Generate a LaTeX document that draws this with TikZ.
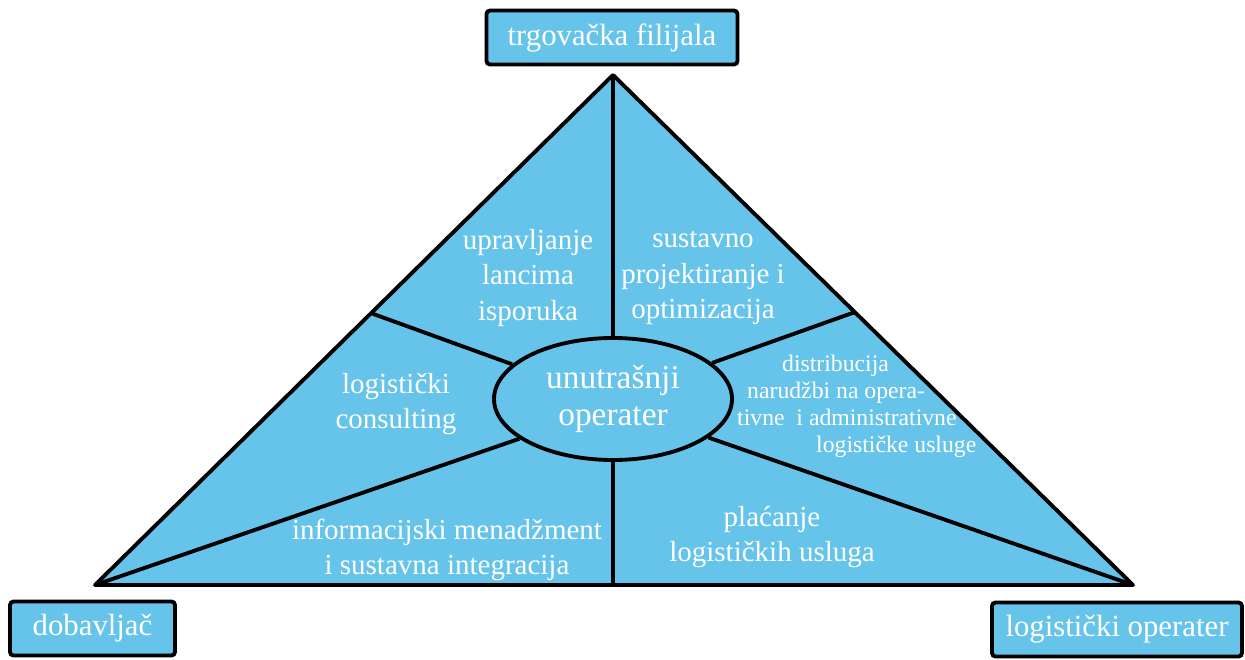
\documentclass[tikz,border=0pt]{standalone}
\usepackage{fontspec}
\setmainfont{Liberation Serif}
\usepackage{tikz}
\definecolor{skyBlue}{RGB}{102,196,234}
\usetikzlibrary{calc}
\usetikzlibrary{shapes.geometric}

\begin{document}
\begin{tikzpicture}[
        divider/.style={line width=2.2pt},
        sector/.style={text=white, align=center, font=\fontsize{16.5}{20}\selectfont},
        partner/.style={draw, line width=2.2pt, rounded corners=2pt, fill=skyBlue, text=white,
                        minimum height=1.08cm, font=\fontsize{17.5}{20}\selectfont}
    ]
        \useasboundingbox (0,0) rectangle (24.9,13.18);

        \coordinate (top)   at (12.26,11.68);
        \coordinate (left)  at ( 1.90, 1.48);
        \coordinate (right) at (22.66, 1.48);
        \coordinate (leftSide)  at ($(left)!0.533!(top)$);
        \coordinate (rightSide) at ($(right)!0.535!(top)$);

        \filldraw[fill=skyBlue, divider, line join=round] (top) -- (left) -- (right) -- cycle;

        \node[draw, divider, fill=skyBlue, ellipse, minimum width=4.76cm, minimum height=2.44cm,
              inner sep=0pt, text=white, align=center, font=\fontsize{19}{21.5}\selectfont]
              (operater) at (12.26,5.2) {unutrašnji\\operater};

        \draw[divider] (top) -- (operater.north);
        \draw[divider] (operater.south) -- (operater.south |- left);
        \draw[divider] (leftSide)  -- (operater.161);
        \draw[divider] (rightSide) -- (operater.20);
        \draw[divider] (left)  -- (operater.203);
        \draw[divider] (right) -- (operater.338);

        \node[sector] (lanci)      at (10.56,7.62) {upravljanje\\lancima\\isporuka};
        \node[sector] (projekt)    at (14.06,7.62) {sustavno\\projektiranje i\\optimizacija};
        \node[sector] (consulting) at ( 7.92,5.10) {logistički\\consulting};
        \node[sector, align=left, anchor=west, font=\fontsize{13.5}{15.3}\selectfont]
              (narudzbe) at (14.62,5.06)
              {\hspace*{0.9cm}distribucija\\\hspace*{0.2cm}narudžbi na opera-\\tivne\ \ i administrativne\\\hspace*{1.58cm}logističke usluge};
        \node[sector] (integracija) at ( 8.94,2.18) {informacijski menadžment\\i sustavna integracija};
        \node[sector] (placanje)    at (15.44,2.44) {plaćanje\\logističkih usluga};

        \node[partner, minimum width=5.02cm] (filijala) at (12.24,12.43) {trgovačka filijala};
        \node[partner, minimum width=3.30cm] (dobavljac) at ( 1.85, 0.61) {dobavljač};
        \node[partner, minimum width=5.00cm] (operaterLog) at (22.34, 0.59) {logistički operater};
    \end{tikzpicture}
\end{document}
